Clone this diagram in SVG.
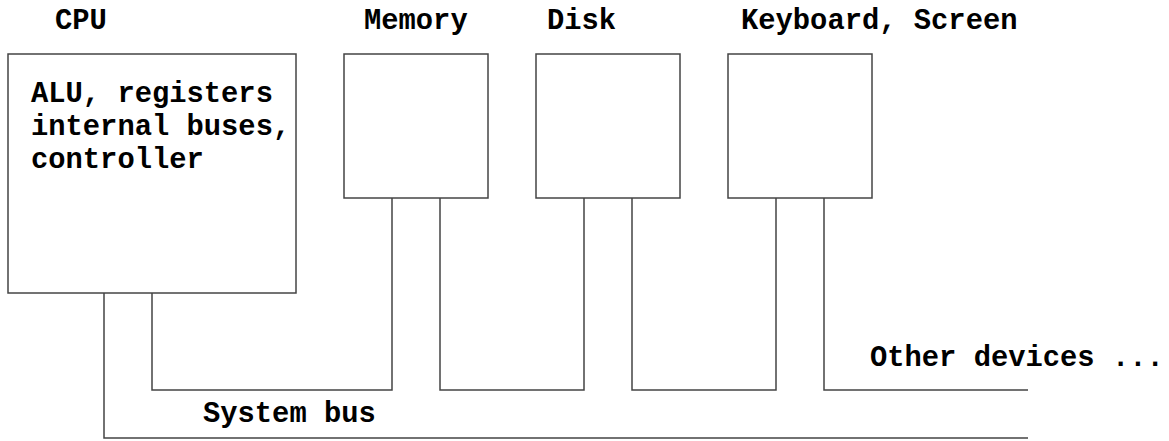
<svg xmlns="http://www.w3.org/2000/svg" width="1169" height="441" viewBox="0 0 1169 441">
  <style>
    .box { fill: #ffffff; stroke: #444444; stroke-width: 1.5; }
    .wire { fill: none; stroke: #444444; stroke-width: 1.5; }
    .lbl { font-family: "Courier New", "Nimbus Mono PS", "Nimbus Mono L", "FreeMono", "Liberation Mono", monospace; font-weight: bold; font-size: 28.8px; fill: #000000; }
  </style>
  <rect width="1169" height="441" fill="#ffffff"/>

  <!-- bus wiring -->
  <g id="connectors">
    <polyline class="wire" points="152,293 152,390 392,390 392,198"/>
    <polyline class="wire" points="440,198 440,390 584,390 584,198"/>
    <polyline class="wire" points="632,198 632,390 776,390 776,198"/>
    <polyline class="wire" points="824,198 824,390 1028,390"/>
    <polyline class="wire" points="104,293 104,438 1028,438"/>
  </g>

  <g id="cpu">
    <text class="lbl" x="55" y="29">CPU</text>
    <rect class="box" x="8" y="54" width="288" height="239"/>
    <text class="lbl" x="31" y="102">ALU, registers</text>
    <text class="lbl" x="31" y="135">internal buses,</text>
    <text class="lbl" x="31" y="168">controller</text>
  </g>

  <g id="memory">
    <text class="lbl" x="364" y="29">Memory</text>
    <rect class="box" x="344" y="54" width="144" height="144"/>
  </g>

  <g id="disk">
    <text class="lbl" x="547" y="29">Disk</text>
    <rect class="box" x="536" y="54" width="144" height="144"/>
  </g>

  <g id="keyboard-screen">
    <text class="lbl" x="741" y="29">Keyboard, Screen</text>
    <rect class="box" x="728" y="54" width="144" height="144"/>
  </g>

  <g id="other-devices">
    <text class="lbl" x="870" y="366">Other devices ...</text>
  </g>

  <g id="system-bus">
    <text class="lbl" x="203" y="422">System bus</text>
  </g>
</svg>
